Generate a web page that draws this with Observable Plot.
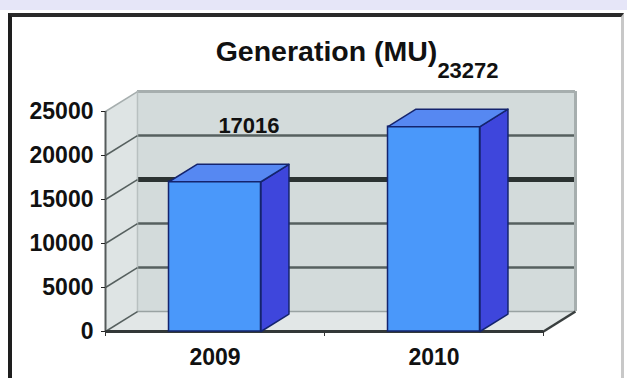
<!DOCTYPE html>
<html><head><meta charset="utf-8">
<script src="https://cdn.jsdelivr.net/npm/d3@7"></script>
<script src="https://cdn.jsdelivr.net/npm/@observablehq/plot@0.6"></script>
<style>
body{margin:0;background:#fff;}
#wrap{position:relative;width:627px;height:378px;overflow:hidden;background:#fff;}
#band{position:absolute;left:0;top:0;width:627px;height:10px;background:#e6e6f8;}
#box{position:absolute;left:8px;top:13px;width:616px;height:380px;border-top:4px solid #2a2a2a;border-left:4px solid #1e1e1e;border-right:3px solid #c8c8c8;box-sizing:border-box;}
#wrap svg{position:absolute;left:0;top:0;}
</style></head><body><div id="wrap"><div id="band"></div><div id="box"></div></div>
<script>
const categories = ["2009", "2010"];
const generation = [17016, 23272];
const yTicks = [0, 5000, 10000, 15000, 20000, 25000];
const xBounds = [0, 1, 2];
const chartTitle = "Generation (MU)";

// 3D depth offsets expressed in scale units
const DX = 0.146, DY = 2270, BD = 0.875, HW = 0.21;
const n = categories.length;
const yMax = yTicks[yTicks.length - 1];

function poly(id, pts) { return pts.map(([x, y]) => ({id, x, y})); }

const backWall = poly("b", [[DX, DY], [n + DX, DY], [n + DX, yMax + DY], [DX, yMax + DY]]);
const floorPl = poly("f", [[0, 0], [n, 0], [n + DX, DY], [DX, DY]]);
const leftWall = poly("l", [[0, 0], [0, yMax], [DX, yMax + DY], [DX, DY]]);

const bars = categories.map((c, i) => ({c, v: generation[i], x0: i + 0.5 - HW, x1: i + 0.5 + HW}));
const sides = bars.flatMap(b => poly(b.c, [[b.x1, 0], [b.x1, b.v], [b.x1 + BD * DX, b.v + BD * DY], [b.x1 + BD * DX, BD * DY]]));
const tops = bars.flatMap(b => poly(b.c, [[b.x0, b.v], [b.x1, b.v], [b.x1 + BD * DX, b.v + BD * DY], [b.x0 + BD * DX, b.v + BD * DY]]));

const face = (data, fill, stroke, sw) => Plot.line(data, {x: "x", y: "y", z: "id", fill, stroke, strokeWidth: sw, curve: "linear-closed"});

const chart = Plot.plot({
  width: 627, height: 378,
  marginLeft: 105, marginRight: 84, marginTop: 111, marginBottom: 47,
  x: {domain: [0, n], axis: null},
  y: {domain: [0, yMax], axis: null},
  style: {fontFamily: "'Liberation Sans', Arial, sans-serif", fontWeight: "bold", background: "transparent", color: "#111", overflow: "visible"},
  marks: [
    face(backWall, "#d3dbdb", "none", 0),
    face(floorPl, "#e2e7e7", "none", 0),
    face(leftWall, "#dee4e4", "none", 0),
    Plot.ruleY(yTicks.filter(t => t > 0 && t < yMax && t !== 15000), {y: d => d + DY, x1: DX, x2: n + DX, stroke: "#56605f", strokeWidth: 2.5}),
    Plot.ruleY([15000], {y: d => d + DY, x1: DX, x2: n + DX, stroke: "#2c3332", strokeWidth: 5}),
    Plot.ruleY([yMax], {y: d => d + DY, x1: DX, x2: n + DX, stroke: "#a6aeae", strokeWidth: 3}),
    Plot.ruleY([0], {y: d => d + DY, x1: DX, x2: n + DX, stroke: "#9aa3a3", strokeWidth: 1.5}),
    Plot.ruleX([n + DX], {y1: DY, y2: yMax + DY, stroke: "#a6aeae", strokeWidth: 3}),
    Plot.ruleX([DX], {y1: DY, y2: yMax + DY, stroke: "#b8c0c0", strokeWidth: 1.5}),
    Plot.link(yTicks, {x1: 0, y1: d => d, x2: DX, y2: d => d + DY, stroke: d => d === yMax ? "#a6aeae" : "#56605f", strokeWidth: 1.5}),
    Plot.link([0], {x1: n, y1: 0, x2: n + DX, y2: DY, stroke: "#3a3f3f", strokeWidth: 2.5}),
    Plot.ruleX([0], {y1: 0, y2: yMax, stroke: "#555b5b", strokeWidth: 2}),
    Plot.ruleY([0], {x1: 0, x2: n, stroke: "#333838", strokeWidth: 3}),
    Plot.axisY(yTicks, {anchor: "left", tickSize: 4, tickPadding: 8, fontSize: 23, tickFormat: d3.format("d"), stroke: "#222"}),
    Plot.axisX(xBounds, {anchor: "bottom", tickSize: 5, tickFormat: () => "", stroke: "#333"}),
    Plot.rect(bars, {x1: "x0", x2: "x1", y1: 0, y2: "v", fill: "#4a98fa", stroke: "#14246e", strokeWidth: 1.5}),
    face(sides, "#3e46dc", "#14246e", 1.5),
    face(tops, "#5688f2", "#14246e", 1.5),
    Plot.text(categories, {x: (d, i) => i + 0.5, y: 0, dy: 26, fontSize: 23, fill: "#111"}),
    Plot.text(bars, {x: b => (b.x0 + b.x1) / 2 + BD * DX, y: b => b.v + BD * DY, text: b => String(b.v), dx: 6, dy: -38, fontSize: 22, fill: "#111"}),
    Plot.text([chartTitle], {frameAnchor: "top", lineAnchor: "middle", dx: 2, dy: -60, fontSize: 28.5, fill: "#111"})
  ]
});
document.getElementById("wrap").appendChild(chart);
</script></body></html>
